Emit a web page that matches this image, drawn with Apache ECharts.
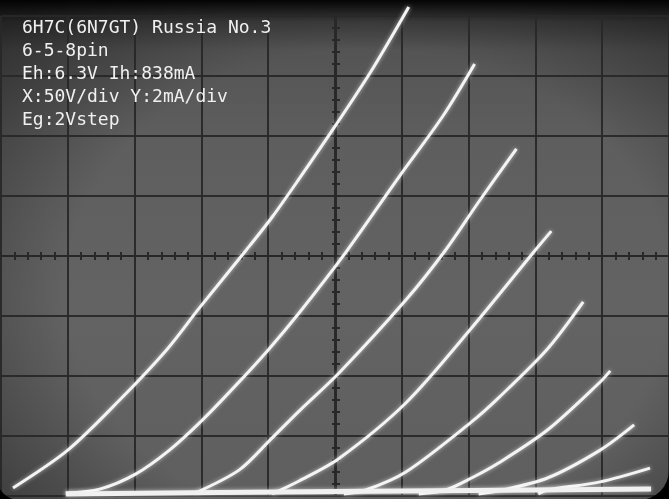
<!DOCTYPE html>
<html>
<head>
<meta charset="utf-8">
<script src="https://cdn.jsdelivr.net/npm/echarts@6/dist/echarts.min.js"></script>
<style>
html,body{margin:0;padding:0;background:#000;}
#wrap{width:669px;height:499px;position:relative;overflow:hidden;}
#chart{width:669px;height:499px;position:absolute;left:0;top:0;
background:
 radial-gradient(ellipse 75% 80% at 55% 58%, rgba(0,0,0,0) 60%, rgba(0,0,0,0.45) 100%),
 linear-gradient(to bottom, #050505 0px, #1c1c1c 8px, #3e3e3e 22px, #545454 50px, #5e5e5e 140px, #636363 300px, #5f5f5f 499px);
}
#bezel{position:absolute;left:-3px;top:-30px;width:672px;height:530px;
 border-radius:0 0 30px 22px;box-shadow:0 0 0 40px #000;pointer-events:none;z-index:5;}
</style>
</head>
<body>
<div id="wrap">
<div id="chart"></div>
<div id="bezel"></div>
</div>
<script>
// Oscilloscope scale: X 50 V/div, Y 2 mA/div, 10 x 8 divisions
const xTicks = { min: 0, max: 500, step: 50 };   // plate voltage (V)
const yTicks = { min: 0, max: 16, step: 2 };     // plate current (mA)
const gridSteps = ['0V', '-2V', '-4V', '-6V', '-8V', '-10V', '-12V', '-14V'];

// Curves: [plate volts, plate mA]
const eg0 = [[9.0,0.27],[50.0,1.53],[88.8,3.2],[123.9,4.87],[148.5,6.27],[183.6,8.2],[203.0,9.3],[223.1,10.57],[250.7,12.37],[277.6,14.2],[305.2,16.3]];
const eg2 = [[48.5,0.1],[73.9,0.23],[100.7,0.73],[126.1,1.53],[150.7,2.53],[175.4,3.67],[200.0,4.87],[223.1,6.1],[258.2,8.13],[297.8,10.63],[331.3,12.7],[354.5,14.4]];
const eg4 = [[145.5,0.1],[178.4,0.87],[201.5,1.87],[223.1,2.83],[253.0,4.1],[303.0,6.53],[332.8,8.2],[357.5,9.8],[385.8,11.57]];
const eg6 = [[203.0,0.07],[223.1,0.5],[253.0,1.25],[303.0,3.1],[352.2,5.6],[400.0,8.2],[411.9,8.83]];
const eg8 = [[256.7,0.07],[273.1,0.2],[303.0,0.8],[352.2,2.47],[372.4,3.27],[409.0,4.9],[435.8,6.47]];
const eg10 = [[312.7,0.07],[332.8,0.2],[352.2,0.6],[372.4,1.1],[409.0,2.2],[448.5,3.8],[456.0,4.17]];
const eg12 = [[357.5,0.07],[372.4,0.17],[409.0,0.6],[448.5,1.53],[473.9,2.37]];
const eg14 = [[402.2,0.07],[409.0,0.2],[448.5,0.47],[485.8,0.93]];
const cutoff = [[48.5,0.07],[250.0,0.15],[486.6,0.23]];

const curves = [eg0, eg2, eg4, eg6, eg8, eg10, eg12, eg14];
const labels = [
  '6H7C(6N7GT) Russia No.3',
  '6-5-8pin',
  'Eh:6.3V Ih:838mA',
  'X:50V/div Y:2mA/div',
  'Eg:2Vstep'
];

const chart = echarts.init(document.getElementById('chart'), null, {renderer: 'canvas'});
const gridLine = { show: true, lineStyle: { color: '#282828', width: 2, opacity: 0.95 } };
const hidden = { show: false };
const centerLine = { show: true, lineStyle: { color: '#282828', width: 2, type: [2, 2] } };
function centerAxis(dim, inside) {
  const base = {
    gridIndex: 0, type: 'value',
    min: dim === 'x' ? xTicks.min : yTicks.min,
    max: dim === 'x' ? xTicks.max : yTicks.max,
    interval: dim === 'x' ? xTicks.step : yTicks.step,
    axisLine: centerLine,
    axisTick: { show: true, inside: inside, length: 4, lineStyle: { color: '#282828', width: 2 } },
    minorTick: { show: true, splitNumber: 5, length: 4, lineStyle: { color: '#282828', width: 2 } },
    axisLabel: hidden, splitLine: hidden
  };
  if (dim === 'x') { base.position = 'bottom'; base.offset = -240; }
  else { base.position = 'left'; base.offset = -335; }
  return base;
}

const series = curves.map((d, i) => ({
  name: 'Eg=' + gridSteps[i], type: 'line', data: d,
  xAxisIndex: 0, yAxisIndex: 0,
  smooth: 0.3, symbol: 'none', clip: false,
  lineStyle: { color: '#f4f4f4', width: 3, shadowColor: 'rgba(255,255,255,0.6)', shadowBlur: 4 }
}));
series.push({
  name: 'cutoff', type: 'line', data: cutoff, xAxisIndex: 0, yAxisIndex: 0,
  smooth: 0.3, symbol: 'none', clip: false,
  lineStyle: { color: '#f0f0f0', width: 5, shadowColor: 'rgba(255,255,255,0.6)', shadowBlur: 4 }
});

chart.setOption({
  backgroundColor: 'transparent',
  animation: false,
  grid: { left: 1, top: 16, width: 670, height: 480, containLabel: false },
  xAxis: [
    { type: 'value', min: xTicks.min, max: xTicks.max, interval: xTicks.step,
      axisLine: hidden, axisTick: hidden, axisLabel: hidden, splitLine: gridLine },
    centerAxis('x', true), centerAxis('x', false)
  ],
  yAxis: [
    { type: 'value', min: yTicks.min, max: yTicks.max, interval: yTicks.step,
      axisLine: hidden, axisTick: hidden, axisLabel: hidden, splitLine: gridLine },
    centerAxis('y', true), centerAxis('y', false)
  ],
  graphic: labels.map((t, i) => ({
    type: 'text', left: 22, top: 19 + i * 23, z: 10,
    style: { text: t, fill: '#f0f0f0', font: '18px "DejaVu Sans Mono", monospace',
      shadowColor: 'rgba(255,255,255,0.6)', shadowBlur: 3 }
  })),
  series: series
});
</script>
</body>
</html>
